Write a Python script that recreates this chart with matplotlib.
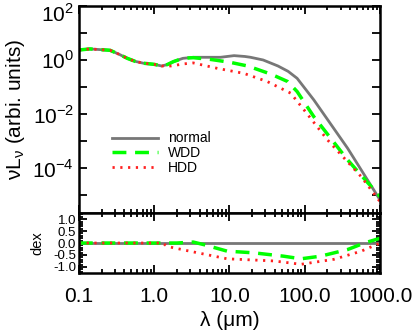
"""
SED comparison: normal vs WDD vs HDD dust, with log-ratio panel below.
"""
import matplotlib
matplotlib.use("Agg")
import matplotlib.pyplot as plt
from matplotlib.ticker import FixedLocator, MultipleLocator, LogLocator, NullFormatter
from matplotlib.transforms import ScaledTranslation

plt.rcParams["font.family"] = ["Liberation Sans", "DejaVu Sans"]
plt.rcParams["mathtext.fontset"] = "custom"
plt.rcParams["mathtext.rm"] = "Liberation Sans"

# --- main panel (lambda in micron, nu L_nu in arbitrary units) ---
lam_normal = [0.1, 0.14, 0.26, 0.35, 0.44, 0.56, 0.72, 1.0, 1.26, 1.5, 1.8, 2.4,
              3.3, 5.0, 7.6, 11.5, 16, 19, 28, 44, 60, 79, 132, 370, 1000]
L_normal = [2.34, 2.57, 2.29, 1.58, 1.15, 0.89, 0.76, 0.69, 0.60, 0.68, 0.87, 1.15,
            1.26, 1.26, 1.26, 1.45, 1.35, 1.26, 1.0, 0.60, 0.38, 0.21, 0.033, 5.4e-4, 6.5e-6]

lam_wdd = [0.1, 0.14, 0.26, 0.35, 0.44, 0.56, 0.72, 1.0, 1.26, 1.5, 1.8, 2.4,
           3.3, 5.6, 10, 17.4, 35.5, 59, 79, 132, 370, 1000]
L_wdd = [2.34, 2.57, 2.29, 1.58, 1.15, 0.89, 0.76, 0.69, 0.60, 0.68, 0.87, 1.15,
         1.22, 1.05, 0.83, 0.60, 0.30, 0.16, 0.068, 0.0079, 2.0e-4, 8.7e-6]

lam_hdd = [0.1, 0.14, 0.26, 0.35, 0.44, 0.56, 0.72, 1.0, 1.26, 1.66, 2.5, 3.3,
           6.9, 15.5, 31.6, 65, 98, 200, 560, 1000]
L_hdd = [2.34, 2.57, 2.29, 1.58, 1.15, 0.89, 0.76, 0.69, 0.60, 0.60, 0.72, 0.78,
         0.49, 0.32, 0.16, 0.059, 0.014, 1.1e-3, 4.8e-5, 5.6e-6]

# --- lower panel (dex relative to normal) ---
lam_dex_normal = [0.1, 1000]
dex_normal = [0.0, 0.0]
lam_dex_wdd = [0.1, 1.0, 2.0, 3.3, 4.6, 9.3, 21, 52, 89, 162, 372, 617, 1000]
dex_wdd = [0.0, 0.0, 0.0, 0.04, -0.07, -0.34, -0.41, -0.55, -0.66, -0.55, -0.27, 0.0, 0.2]
lam_dex_hdd = [0.1, 1.0, 1.3, 1.48, 2.75, 9.3, 39, 89, 245, 562, 1000]
dex_hdd = [0.0, 0.0, 0.0, -0.14, -0.32, -0.66, -0.75, -0.89, -0.68, -0.34, 0.0]

GRAY = "#777777"
GREEN = "#00ff00"
RED = "#ff2020"

fig = plt.figure(figsize=(4.15, 3.32), dpi=100)
ax = fig.add_axes([0.190, 0.358, 0.726, 0.624])
axr = fig.add_axes([0.190, 0.178, 0.726, 0.180], sharex=ax)

ax.plot(lam_normal, L_normal, color=GRAY, lw=2.0, label="normal")
ax.plot(lam_wdd, L_wdd, color=GREEN, lw=2.5, dashes=(4, 2.5), label="WDD")
ax.plot(lam_hdd, L_hdd, color=RED, lw=2.0, dashes=(0.8, 2.0), label="HDD")

axr.plot(lam_dex_normal, dex_normal, color=GRAY, lw=2.0)
axr.plot(lam_dex_wdd, dex_wdd, color=GREEN, lw=2.5, dashes=(4, 2.5))
axr.plot(lam_dex_hdd, dex_hdd, color=RED, lw=2.0, dashes=(0.8, 2.0))

ax.set_xscale("log")
ax.set_yscale("log")
ax.set_xlim(0.1, 1000)
ax.set_ylim(10 ** -5.67, 100)
axr.set_ylim(-1.25, 1.25)

for a in (ax, axr):
    for s in a.spines.values():
        s.set_linewidth(1.8)
    a.tick_params(which="both", direction="in", top=True, right=True, width=1.3)
    a.tick_params(which="major", length=6)
    a.tick_params(which="minor", length=3)

ax.yaxis.set_major_locator(FixedLocator([1e-4, 1e-2, 1, 1e2]))
ax.set_yticklabels([r"10$^{-4}$", r"10$^{-2}$", r"10$^{0}$", r"10$^{2}$"], fontsize=15)
ax.yaxis.set_minor_locator(FixedLocator([1e-5, 1e-3, 1e-1, 1e1]))
ax.yaxis.set_minor_formatter(NullFormatter())
ax.tick_params(axis="y", which="minor", length=6)
ax.xaxis.set_minor_locator(LogLocator(base=10, subs=range(2, 10)))
plt.setp(ax.get_xticklabels(), visible=False)
# keep the top label inside the figure, as in the original
top_lbl = ax.get_yticklabels()[-1]
top_lbl.set_transform(top_lbl.get_transform()
                      + ScaledTranslation(0, -5 / 72, fig.dpi_scale_trans))

axr.set_xticks([0.1, 1, 10, 100, 1000])
axr.set_xticklabels(["0.1", "1.0", "10.0", "100.0", "1000.0"], fontsize=15)
axr.xaxis.set_minor_formatter(NullFormatter())
axr.tick_params(axis="x", which="major", pad=10)
axr.yaxis.set_major_locator(FixedLocator([-1.0, -0.5, 0.0, 0.5, 1.0]))
axr.set_yticklabels(["-1.0", "-0.5", "0.0", "0.5", "1.0"], fontsize=9.5)
axr.yaxis.set_minor_locator(MultipleLocator(0.1))
axr.tick_params(axis="y", which="major", pad=2)

ax.set_ylabel(r"νL$_\mathregular{ν}$ (arbi. units)", fontsize=15, labelpad=4)
axr.set_ylabel("dex", fontsize=10.5, labelpad=6)
axr.set_xlabel("λ (μm)", fontsize=15, labelpad=4)

ax.legend(loc="center left", bbox_to_anchor=(0.11, 0.29), frameon=False,
          fontsize=10, handlelength=3.3, handletextpad=0.7,
          labelspacing=0.05, borderpad=0, borderaxespad=0)

fig.savefig("out.png", dpi=100)
